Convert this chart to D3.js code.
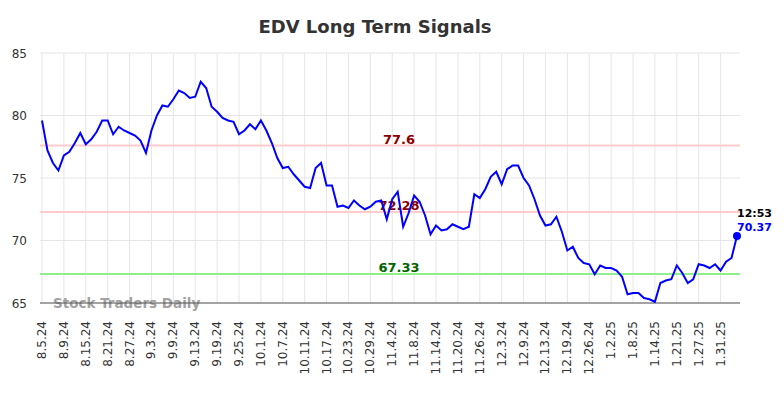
<!DOCTYPE html>
<html><head><meta charset="utf-8">
<script src="https://cdn.jsdelivr.net/npm/d3@7"></script>
<style>body{margin:0;background:#fff;} svg{display:block;font-family:"DejaVu Sans",sans-serif;}</style>
</head><body>
<svg id="c" width="784" height="398"></svg>
<script>
const tickLabels = ["8.5.24","8.9.24","8.15.24","8.21.24","8.27.24","9.3.24","9.9.24","9.13.24","9.19.24","9.25.24","10.1.24","10.7.24","10.11.24","10.17.24","10.23.24","10.29.24","11.4.24","11.8.24","11.14.24","11.20.24","11.26.24","12.3.24","12.9.24","12.13.24","12.19.24","12.26.24","1.2.25","1.8.25","1.14.25","1.21.25","1.27.25","1.31.25"];
const values = [79.6,77.2,76.2,75.6,76.8,77.1,77.8,78.6,77.7,78.1,78.7,79.6,79.6,78.5,79.1,78.8,78.6,78.4,78.0,77.0,
78.8,80.0,80.8,80.7,81.3,82.0,81.8,81.4,81.5,82.7,82.2,80.7,80.3,79.8,79.6,79.5,78.5,78.8,79.3,78.9,
79.6,78.8,77.8,76.6,75.8,75.9,75.3,74.8,74.3,74.2,75.8,76.2,74.4,74.4,72.7,72.8,72.6,73.2,72.8,72.5,
72.7,73.1,73.2,71.7,73.3,73.9,71.1,72.2,73.6,73.1,72.0,70.5,71.2,70.8,70.9,71.3,71.1,70.9,71.1,73.7,
73.4,74.1,75.1,75.5,74.5,75.7,76.0,76.0,75.0,74.4,73.3,72.0,71.2,71.3,71.9,70.7,69.2,69.5,68.6,68.2,
68.1,67.3,68.0,67.8,67.8,67.6,67.1,65.7,65.8,65.8,65.4,65.3,65.1,66.6,66.8,66.9,68.0,67.4,66.6,66.9,
68.1,68.0,67.8,68.1,67.6,68.3,68.6,70.37];
const yTicks = [65,70,75,80,85];
const levels = [77.6,72.28,67.33];
const levelLabels = ["77.6","72.28","67.33"];
const levelColors = ["#ffcccc","#ffcccc","#90ee90"];
const levelTextColors = ["#8b0000","#8b0000","#006400"];
const lastTime = "12:53";
const titleText = "EDV Long Term Signals";
const watermark = "Stock Traders Daily";

const svg = d3.select("#c");
const pL = 40, pR = 740, pT = 53, pB = 303;
const x = d3.scaleLinear().domain([0, values.length - 1]).range([42, 737]);
const y = d3.scaleLinear().domain([65, 85]).range([pB, pT]);
const tickIdx = tickLabels.map((d, i) => i * 4);

svg.append("text").attr("x", 375).attr("y", 33).attr("text-anchor", "middle")
  .attr("font-size", 18).attr("font-weight", "bold").attr("fill", "#333").text(titleText);

svg.append("g").selectAll("line").data(yTicks).join("line")
  .attr("x1", pL).attr("x2", pR).attr("y1", d => y(d)).attr("y2", d => y(d))
  .attr("stroke", "#e6e6e6").attr("stroke-width", 1);
svg.append("g").selectAll("line").data(tickIdx).join("line")
  .attr("x1", d => x(d)).attr("x2", d => x(d)).attr("y1", pT).attr("y2", pB)
  .attr("stroke", "#e6e6e6").attr("stroke-width", 1);

svg.append("g").selectAll("text").data(yTicks).join("text")
  .attr("x", 27).attr("y", d => y(d) + 4.5).attr("text-anchor", "end")
  .attr("font-size", 12).attr("fill", "#333").text(d => d);

svg.append("g").selectAll("text").data(tickIdx).join("text")
  .attr("transform", d => `translate(${x(d) + 4},321) rotate(-90)`)
  .attr("text-anchor", "end").attr("font-size", 12).attr("fill", "#333")
  .text((d, i) => tickLabels[i]);

levels.forEach((v, i) => {
  svg.append("line").attr("x1", pL).attr("x2", pR).attr("y1", y(v)).attr("y2", y(v))
    .attr("stroke", levelColors[i]).attr("stroke-width", 2);
  svg.append("text").attr("x", 399).attr("y", y(v) - 2).attr("text-anchor", "middle")
    .attr("font-size", 13).attr("font-weight", "bold").attr("fill", levelTextColors[i]).text(levelLabels[i]);
});

svg.append("text").attr("x", 53).attr("y", 308).attr("font-size", 13.5).attr("font-weight", "bold")
  .attr("fill", "#999").attr("opacity", 0.9).text(watermark);

svg.append("line").attr("x1", pL).attr("x2", pR).attr("y1", pB).attr("y2", pB)
  .attr("stroke", "#555").attr("stroke-width", 1);

svg.append("path").datum(values)
  .attr("d", d3.line().x((d, i) => x(i)).y(d => y(d)))
  .attr("fill", "none").attr("stroke", "#0000ff").attr("stroke-width", 2);

const li = values.length - 1;
svg.append("circle").attr("cx", x(li)).attr("cy", y(values[li])).attr("r", 4).attr("fill", "#0000ff");
svg.append("text").attr("x", x(li)).attr("y", y(values[li]) - 19).attr("font-size", 11).attr("font-weight", "bold")
  .attr("fill", "#000").text(lastTime);
svg.append("text").attr("x", x(li)).attr("y", y(values[li]) - 5).attr("font-size", 11).attr("font-weight", "bold")
  .attr("fill", "#0000ff").text(values[li].toFixed(2));
</script>
</body></html>
